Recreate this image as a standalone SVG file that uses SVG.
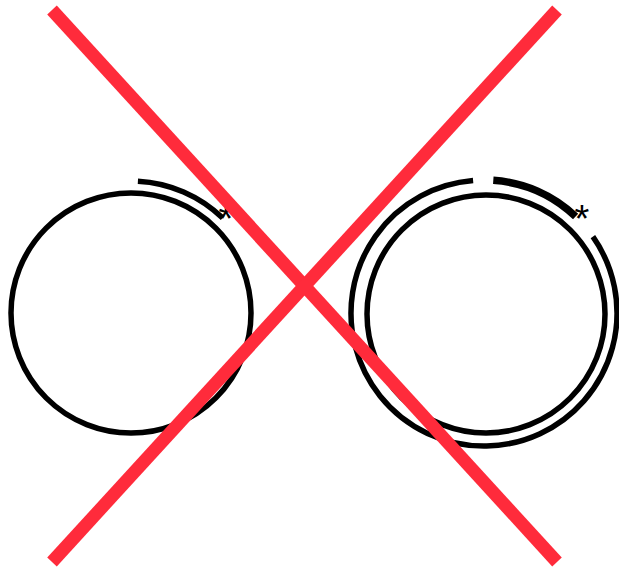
<svg xmlns="http://www.w3.org/2000/svg" width="619" height="568" viewBox="0 0 619 568">
<style>
.ring{fill:none;stroke:#000;stroke-width:5.5}
.thick{fill:none;stroke:#000;stroke-width:7.5}
.star{font-family:"Liberation Sans",Arial,sans-serif;font-size:38px;fill:#000;text-anchor:middle}
.cross{stroke:#ff2b3b;stroke-width:13;stroke-linecap:butt}
</style>
<rect width="619" height="568" fill="#fff"/>
<g id="left-node">
<circle class="ring" cx="131" cy="313" r="120"/>
<path class="ring" d="M137.9,181.2 A132,132 0 0 1 222.7,218.1"/>
<text class="star" x="226" y="232">*</text>
</g>
<g id="right-node">
<circle class="ring" cx="486" cy="314" r="119"/>
<path class="thick" d="M493.3,180.3 A133,133 0 0 1 575.6,216.5"/>
<path class="ring" d="M592.9,236.7 A133,133 0 1 1 473.1,180.5"/>
<text class="star" x="582" y="232">*</text>
</g>
<g id="connectors">
<line class="cross" x1="52" y1="10" x2="557" y2="562"/>
<line class="cross" x1="557" y1="10" x2="52" y2="562"/>
</g>
</svg>
